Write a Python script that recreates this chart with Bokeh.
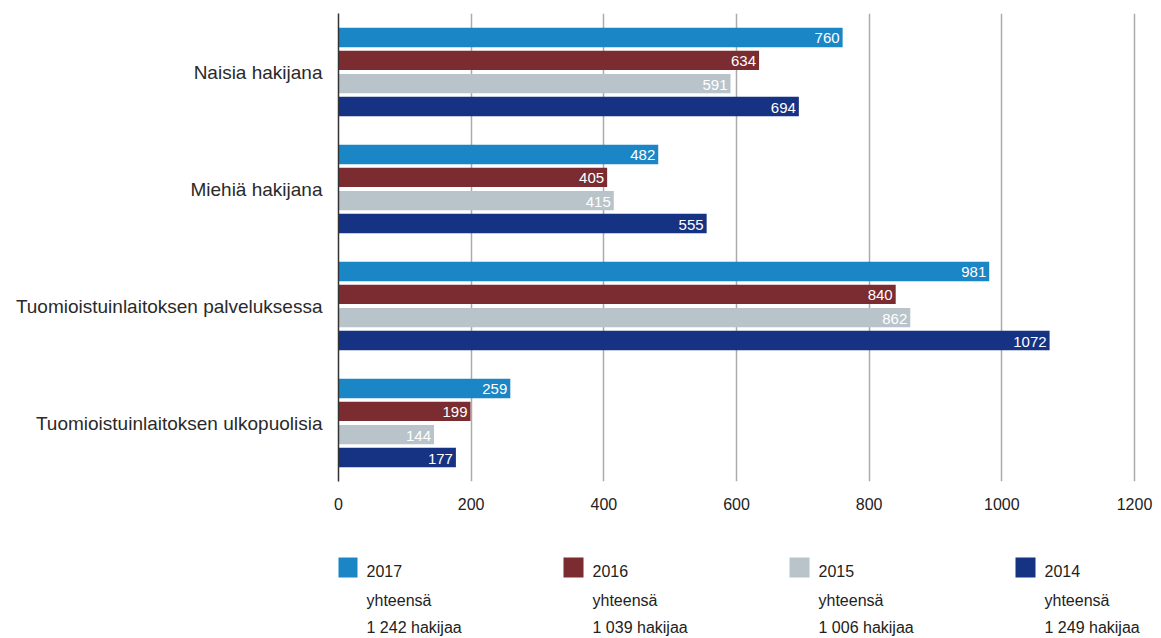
from bokeh.plotting import figure
from bokeh.models import FactorRange, Range1d, SingleIntervalTicker, ColumnDataSource
from bokeh.transform import dodge
from bokeh.layouts import column
from bokeh.core.properties import value
from bokeh.embed import file_html
from bokeh.resources import INLINE

# ---- data ----
categories = ["Naisia hakijana", "Miehiä hakijana",
              "Tuomioistuinlaitoksen palveluksessa", "Tuomioistuinlaitoksen ulkopuolisia"]
years = ["2017", "2016", "2015", "2014"]
v2017 = [760, 482, 981, 259]
v2016 = [634, 405, 840, 199]
v2015 = [591, 415, 862, 144]
v2014 = [694, 555, 1072, 177]
totals = ["1 242 hakijaa", "1 039 hakijaa", "1 006 hakijaa", "1 249 hakijaa"]
colors = ["#1b86c6", "#7a2c30", "#b8c4ca", "#163383"]
offsets = [0.295, 0.1, -0.1, -0.295]

series = [v2017, v2016, v2015, v2014]

LABEL_FONT = "Liberation Sans"
COND_FONT = "Liberation Sans"
LEFT, W = 338, 1160
AXIS_MAX = 1200
AXIS_PX = 796                       # pixel length of 0..1200 on the axis
X_END = AXIS_MAX * (W - LEFT) / AXIS_PX   # frame runs to the right canvas edge

p = figure(width=W, height=540,
           y_range=FactorRange(*list(reversed(categories)), range_padding=0),
           x_range=Range1d(0, X_END),
           output_backend="svg", toolbar_location=None,
           min_border_left=LEFT, min_border_right=0,
           min_border_top=13, min_border_bottom=59)
p.outline_line_color = None
p.background_fill_color = "white"
p.border_fill_color = "white"

for vals, col, off in zip(series, colors, offsets):
    src = ColumnDataSource(dict(cat=categories, val=vals, lab=[str(v) for v in vals]))
    yy = dodge("cat", off, range=p.y_range)
    p.hbar(y=yy, left=0, right="val", height=0.165, color=col, line_color=None, source=src)
    p.text(x="val", y=yy, text="lab", source=src, text_align="right", text_baseline="middle",
           x_offset=-3, y_offset=1, text_color="white", text_font_size="15px",
           text_font=value(LABEL_FONT))

p.xaxis.ticker = SingleIntervalTicker(interval=200)
p.xgrid.ticker = SingleIntervalTicker(interval=200)
p.xgrid.grid_line_color = "#ababab"
p.xgrid.grid_line_width = 1.5
p.ygrid.grid_line_color = None

p.xaxis.axis_line_color = None
p.xaxis.major_tick_line_color = None
p.xaxis.minor_tick_line_color = None
p.xaxis.major_tick_out = 0
p.xaxis.major_tick_in = 0
p.xaxis.major_label_standoff = 12
p.xaxis.major_label_text_font = COND_FONT
p.xaxis.major_label_text_font_size = "16px"
p.xaxis.major_label_text_color = "#222222"

p.yaxis.axis_line_color = "#333333"
p.yaxis.axis_line_width = 1.5
p.yaxis.major_tick_line_color = None
p.yaxis.minor_tick_line_color = None
p.yaxis.major_tick_out = 0
p.yaxis.major_tick_in = 0
p.yaxis.major_label_standoff = 16
p.yaxis.major_label_text_font = LABEL_FONT
p.yaxis.major_label_text_font_size = "19px"
p.yaxis.major_label_text_color = "#2a2a2a"

# ---- legend panel (data units = page pixels) ----
LH = 98
leg = figure(width=W, height=LH, x_range=Range1d(LEFT, W), y_range=Range1d(LH, 0),
             output_backend="svg", toolbar_location=None,
             min_border_left=LEFT, min_border_right=0, min_border_top=0, min_border_bottom=0)
leg.axis.visible = False
leg.grid.visible = False
leg.outline_line_color = None

x0, step = 337, 226
xs = [x0 + i * step for i in range(len(years))]
lsrc = ColumnDataSource(dict(
    x=[x + 10 for x in xs], tx=[x + 29 for x in xs],
    year=years, tot=totals, col=colors, yh=["yhteensä"] * len(years)))
leg.rect(x="x", y=27, width=20, height=20, color="col", line_color=None, source=lsrc)
leg.text(x="tx", y=30, text="year", source=lsrc, text_baseline="middle",
         text_font=value(COND_FONT), text_font_size="16px", text_color="#222222")
leg.text(x="tx", y=60, text="yh", source=lsrc, text_baseline="middle",
         text_font=value(COND_FONT), text_font_size="16px", text_color="#222222")
leg.text(x="tx", y=87, text="tot", source=lsrc, text_baseline="middle",
         text_font=value(COND_FONT), text_font_size="16px", text_color="#222222")

layout = column(p, leg, spacing=0)
open("out.html", "w").write(file_html(layout, INLINE))
